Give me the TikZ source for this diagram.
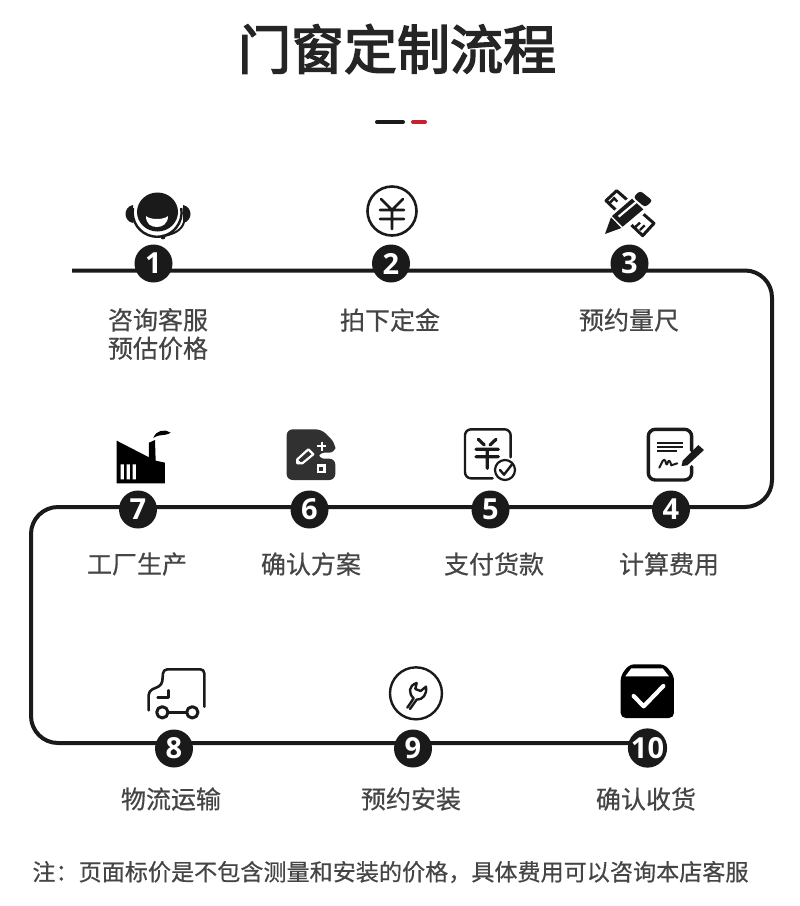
\documentclass[tikz,border=0pt]{standalone}
\usepackage{fontspec}
\setmainfont{Noto Sans CJK SC}
\newfontfamily\digitfont{Open Sans}
\newfontfamily\titlefont[FakeBold=3]{Noto Sans CJK SC}
\newfontfamily\labelfont[FakeBold=0.5]{Noto Sans CJK SC}
\usetikzlibrary{backgrounds,calc}
\definecolor{ink}{HTML}{1A1A1A}
\definecolor{labelgray}{HTML}{454545}
\definecolor{accent}{HTML}{C8202F}
\tikzset{
  stepdot/.style={circle,fill=ink,text=white,minimum size=38pt,inner sep=0pt,font=\digitfont\bfseries\fontsize{29}{29}\selectfont},
  steplabel/.style={text=labelgray,inner sep=0pt,align=center,font=\labelfont\fontsize{25}{28.5}\selectfont},
  flow/.style={line width=4pt,draw=ink,rounded corners=27pt},
  iconline/.style={draw=ink,line width=2.6pt,line cap=round,line join=round,fill=none},
}
\begin{document}
\begin{tikzpicture}[x=1pt,y=-1pt]
\useasboundingbox (0,0) rectangle (800,906);

% title and rule
\node[inner sep=0pt,text=ink!95,font=\titlefont\fontsize{53}{53}\selectfont] (title) at (397,49) {门窗定制流程};
\coordinate (barA) at (377,122); \coordinate (barB) at (403,122);
\coordinate (barC) at (413,122); \coordinate (barD) at (425,122);
\draw[line width=4pt,line cap=round,draw=ink] (barA) -- (barB);
\draw[line width=4pt,line cap=round,draw=accent] (barC) -- (barD);

% step dots
\node[stepdot] (n1) at (153.5,263.5) {1};
\node[stepdot] (n2) at (391,263.5) {2};
\node[stepdot] (n3) at (629.5,263.5) {3};
\node[stepdot] (n4) at (671,509.5) {4};
\node[stepdot] (n5) at (490.5,509.5) {5};
\node[stepdot] (n6) at (309.5,509.5) {6};
\node[stepdot] (n7) at (138,509.5) {7};
\node[stepdot] (n8) at (174,748.5) {8};
\node[stepdot] (n9) at (413,748.5) {9};
\node[stepdot] (n10) at (647.5,748) {10};

% connector
\coordinate (start) at (72,270.5);
\coordinate (cornerA) at (772,270.5);
\coordinate (cornerB) at (772,507);
\coordinate (cornerC) at (31,507);
\coordinate (cornerD) at (31,743);
\begin{scope}[on background layer]
\fill[white] (0,0) rectangle (800,906);
\draw[flow] (start) -- (cornerA) -- (cornerB) -- (cornerC) -- (cornerD) -- (n10.center |- cornerD);
\end{scope}

% labels
\node[steplabel] (l1) at (158,334) {咨询客服\\预估价格};
\node[steplabel] (l2) at (390,320) {拍下定金};
\node[steplabel] (l3) at (629,320) {预约量尺};
\node[steplabel] (l4) at (669,564) {计算费用};
\node[steplabel] (l5) at (494,564) {支付货款};
\node[steplabel] (l6) at (311,564) {确认方案};
\node[steplabel] (l7) at (137,564) {工厂生产};
\node[steplabel] (l8) at (171,799) {物流运输};
\node[steplabel] (l9) at (411,799) {预约安装};
\node[steplabel] (l10) at (646,799) {确认收货};
\node[text=labelgray,inner sep=0pt,font=\labelfont\fontsize{23.1}{23}\selectfont] (note) at (390.5,872) {注：页面标价是不包含测量和安装的价格，具体费用可以咨询本店客服};

% icon 1: headset
\fill[ink] (157.5,212) circle[x radius=20.5,y radius=19.5];
\draw[ink,line width=2.4pt] (133,208) arc[start angle=190,end angle=-10,radius=24.5];
\fill[ink] (133,205) .. controls (123,207) and (123,221) .. (133,223) -- cycle;
\fill[ink] (183,205) .. controls (193,207) and (193,221) .. (183,223) -- cycle;
\draw[ink,line width=2pt,line cap=round] (184,222) .. controls (182,230) and (174,234) .. (164,236);
\fill[ink] (163,237) circle (2.4);
\fill[white] (146,216) .. controls (150,220) and (164,220) .. (168,216) .. controls (168,224) and (162,227) .. (157,227) .. controls (151,227) and (146,224) .. (146,216) -- cycle;

% icon 2: yen coin
\draw[iconline] (392,211) circle (24.5);
\draw[iconline] (381,199) -- (392,210) -- (403,199) (380,210) -- (404,210) (380,219) -- (404,219) (392,210) -- (392,229);

% icon 3: pencil and ruler
\begin{scope}[shift={(580,170)},x=0.3333pt,y=-0.3333pt]
\draw[ink,line width=3pt,line join=round,fill=white] (78,92) -- (110,62) -- (222,160) -- (188,197) -- cycle;
\draw[ink,line width=2.4pt] (100,82) -- (112,95) (88,100) -- (102,86) (165,172) -- (180,158) (180,180) -- (194,166) ;
\draw[white,line width=22pt] (90,178) -- (205,75);
\fill[ink,rounded corners=3pt] (180,62) -- (218,92) -- (195,112) -- (160,82) -- cycle;
\fill[ink] (75,192) -- (93,142) -- (124,174) -- cycle;
\fill[ink] (96,138) -- (156,86) -- (190,118) -- (128,170) -- cycle;
\draw[white,line width=2.2pt] (116,140) -- (170,95);
\end{scope}

% icon 7: factory
\begin{scope}[shift={(100,420)},x=0.3333pt,y=-0.3333pt]
\fill[black] (50,62) -- (147,112) -- (147,68) -- (165,60) -- (167,122) -- (195,128) -- (195,190) -- (50,190) -- cycle;
\fill[white] (62,133) rectangle (72,178) (80,133) rectangle (90,178) (98,133) rectangle (108,178);
\fill[black] (160,54) .. controls (168,30) and (195,26) .. (212,38) .. controls (200,46) and (190,44) .. (180,46) .. controls (172,47) and (166,50) .. (160,54) -- cycle;
\end{scope}

% icon 6: plan
\begin{scope}[shift={(100,420)},x=0.3333pt,y=-0.3333pt]
\fill[ink!90,rounded corners=6pt] (560,28) -- (665,28) -- (706,70) -- (706,98) -- (655,98) -- (655,116) -- (706,116) -- (706,180) -- (560,180) -- cycle;
\draw[white,line width=2.2pt] (665,65) -- (665,92) (651,78) -- (679,78);
\draw[white,line width=2.2pt,line join=round] (592,118) -- (625,88) -- (640,103) -- (607,130) -- (592,130) -- cycle;
\fill[white] (592,118) -- (606,130) -- (592,130) -- cycle;
\fill[white] (650,132) rectangle (678,160);
\fill[ink!90] (658,140) rectangle (670,152);
\end{scope}

% icon 5: yen sheet
\begin{scope}[shift={(450,420)},x=0.3333pt,y=-0.3333pt]
\draw[iconline,rounded corners=6pt,line width=2.4pt] (128,175) -- (45,175) -- (45,28) -- (182,28) -- (182,112);
\draw[iconline,line width=3.2pt] (85,58) -- (103,75) (138,58) -- (120,75) (78,88) -- (145,88) (78,110) -- (145,110) (112,88) -- (112,145);
\draw[iconline,line width=2.2pt] (165,150) circle (30);
\draw[iconline,line width=2.4pt] (150,150) -- (162,164) -- (187,132);
\end{scope}

% icon 4: signed sheet
\begin{scope}[shift={(450,420)},x=0.3333pt,y=-0.3333pt]
\draw[iconline,rounded corners=7pt,line width=3.4pt] (725,92) -- (725,28) -- (595,28) -- (595,180) -- (725,180) -- (725,140);
\draw[ink,line width=1.8pt] (622,68) -- (698,68) (622,81) -- (698,81) (622,94) -- (680,94);
\draw[ink,line width=2pt,line cap=round,line join=round] (628,143) .. controls (636,130) and (640,112) .. (646,122) .. controls (648,132) and (650,140) .. (654,126) .. controls (658,116) and (662,128) .. (664,136) -- (682,130);
\fill[ink] (745,75) -- (762,90) -- (712,136) -- (695,138) -- (698,122) -- cycle;
\end{scope}

% icon 8: truck
\begin{scope}[shift={(130,655)},x=0.3333pt,y=-0.3333pt]
\draw[iconline,line width=2.6pt,rounded corners=4pt] (223,155) -- (223,43) -- (100,43) -- (96,90) -- (56,108) -- (56,166);
\draw[iconline] (83,127) -- (115,127) -- (115,106);
\draw[iconline,line width=3pt] (97,172) circle (17) (187,172) circle (17);
\draw[iconline] (114,172) -- (170,172);
\end{scope}

% icon 9: wrench
\begin{scope}[shift={(130,655)},x=0.3333pt,y=-0.3333pt]
\draw[iconline,line width=2.4pt] (858,115) circle (78);
\draw[iconline,line width=2.4pt] (832,158) -- (851,130) .. controls (835,115) and (835,92) .. (860,84) -- (856,102) -- (872,108) -- (888,95) .. controls (892,118) and (878,135) .. (860,134) -- (840,162);
\end{scope}

% icon 10: checked box
\begin{scope}[shift={(600,655)},x=0.3333pt,y=-0.3333pt]
\fill[black,rounded corners=5pt] (62,62) -- (88,28) -- (194,28) -- (222,62) -- (222,189) -- (62,189) -- cycle;
\fill[white] (76,64) -- (94,40) -- (188,40) -- (207,64) -- cycle;
\draw[white,line width=4.2pt,line cap=round,line join=round] (101,123) -- (131,154) -- (190,93);
\end{scope}
\end{tikzpicture}
\end{document}
